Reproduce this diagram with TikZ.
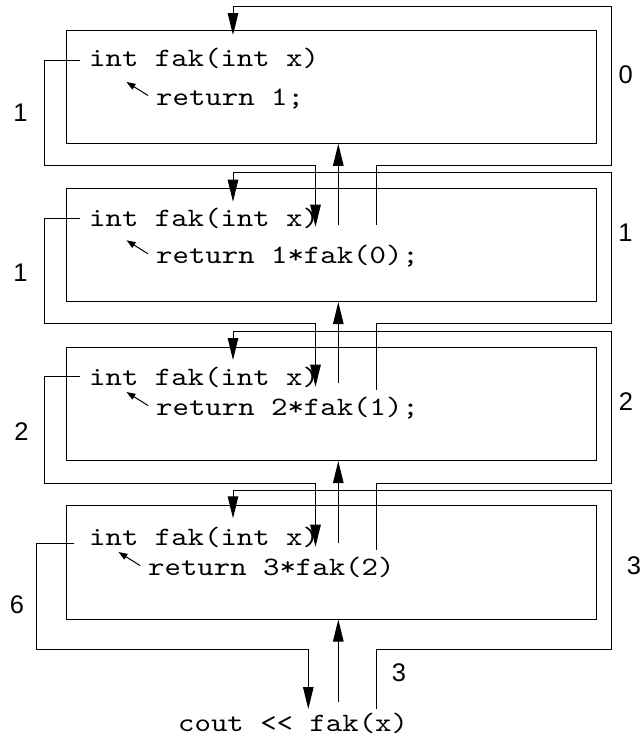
\documentclass[tikz,border=0pt]{standalone}
\usepackage{fontspec}
\newfontfamily\codefont{lmmono10-regular.otf}[FakeStretch=1.18]
\newfontfamily\numfont{Liberation Sans}
\usetikzlibrary{arrows.meta,calc}
\tikzset{
  frame/.style={draw, line width=1pt, minimum width=529.5pt, minimum height=113.3pt, inner sep=0pt},
  code/.style={anchor=base west, inner sep=0pt, font=\codefont\fontsize{26.5}{30}\selectfont},
  num/.style={inner sep=0pt, font=\numfont\fontsize{25.5}{28}\selectfont},
  flow/.style={line width=1pt, -{Triangle[length=22pt,width=10.5pt]}},
  hint/.style={line width=1pt, -{Triangle[length=9pt,width=6.5pt]}}
}

\begin{document}
\begin{tikzpicture}[x=1pt, y=-1pt]
	%%%%% START %%%%%
	\useasboundingbox (0,0) rectangle (640,737);
	
	\node[frame] (box1) at (331.25, 86.65) {};
	\node[frame] (box2) at (331.25, 244.95) {};
	\node[frame] (box3) at (331.25, 403.95) {};
	\node[frame] (box4) at (331.25, 562.35) {};
	
	\node[code] (head1) at (89, 66.7) {int fak(int x)};
	\node[code] (ret1) at (156, 105) {return 1;};
	\node[code] (head2) at (89, 226) {int fak(int x)};
	\node[code] (ret2) at (156, 263.3) {return 1*fak(0);};
	\node[code] (head3) at (89, 385) {int fak(int x)};
	\node[code] (ret3) at (156, 415) {return 2*fak(1);};
	\node[code] (head4) at (89, 545) {int fak(int x)};
	\node[code] (ret4) at (148, 575) {return 3*fak(2)};
	\node[code] (main) at (178, 731.7) {cout <\kern0pt< fak(x)};
	
	\draw[hint] ($(ret1.base west)+(-8,-9.5)$) -- +(-21.5,-13.5);
	\draw[hint] ($(ret2.base west)+(-8,-9.5)$) -- +(-21.5,-13.5);
	\draw[hint] ($(ret3.base west)+(-8,-9.5)$) -- +(-21.5,-13.5);
	\draw[hint] ($(ret4.base west)+(-8,-9.5)$) -- +(-21.5,-13.5);
	
	% calls: argument goes round the right side
	\coordinate (call2) at (376.7, 225);
	\coordinate (call3) at (376.7, 390);
	\coordinate (call4) at (376.7, 550);
	\coordinate (callmain) at (376.7, 709);
	\coordinate (in1) at (233, 35);
	\coordinate (in2) at (233, 201.7);
	\coordinate (in3) at (233, 360);
	\coordinate (in4) at (233, 518.3);
	\draw[flow] (call2) |- (611, 165.5) |- (233, 6.7) -- (in1);
	\draw[flow] (call3) |- (611, 323.3) |- (233, 172.5) -- (in2);
	\draw[flow] (call4) |- (611, 483.3) |- (233, 331.7) -- (in3);
	\draw[flow] (callmain) |- (611, 649.3) |- (233, 490.7) -- (in4);
	
	% results: value goes round the left side
	\coordinate (out1) at (79.6, 60);
	\coordinate (out2) at (79.6, 218.3);
	\coordinate (out3) at (79.6, 376.7);
	\coordinate (out4) at (74, 543.3);
	\coordinate (back2) at (315.5, 226.7);
	\coordinate (back3) at (315.5, 386.7);
	\coordinate (back4) at (315.5, 546.7);
	\coordinate (backmain) at (308.3, 709);
	\draw[flow] (out1) -| (44, 165.5) -| (back2);
	\draw[flow] (out2) -| (44, 323.3) -| (back3);
	\draw[flow] (out3) -| (44, 483.3) -| (back4);
	\draw[flow] (out4) -| (36, 649.3) -| (backmain);
	
	% control goes up
	\coordinate (up2) at (338.3, 225);
	\coordinate (up3) at (338.3, 383.3);
	\coordinate (up4) at (338.3, 543.3);
	\coordinate (upmain) at (338.3, 701.7);
	\draw[flow] (up2) -- (box1.south -| up2);
	\draw[flow] (up3) -- (box2.south -| up3);
	\draw[flow] (up4) -- (box3.south -| up4);
	\draw[flow] (upmain) -- (box4.south -| upmain);
	
	\node[num] (arg0) at (625.7, 75) {0};
	\node[num] (arg1) at (625.5, 233) {1};
	\node[num] (arg2) at (626, 401.5) {2};
	\node[num] (arg3) at (634, 566) {3};
	\node[num] (argmain) at (399, 673) {3};
	\node[num] (val1) at (20.5, 112.5) {1};
	\node[num] (val2) at (20.5, 272.5) {1};
	\node[num] (val3) at (21.5, 431.5) {2};
	\node[num] (val4) at (17, 605) {6};
	
	%%%%% END %%%%%
\end{tikzpicture}
\end{document}
